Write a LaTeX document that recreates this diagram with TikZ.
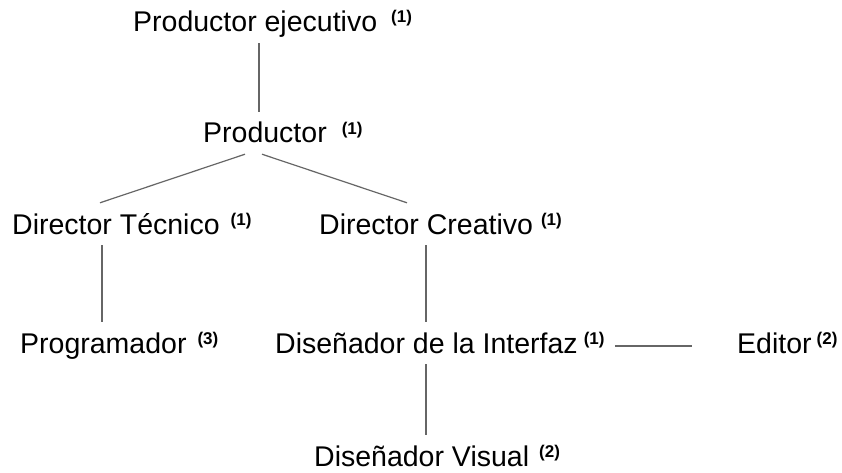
\documentclass[tikz,border=0pt]{standalone}
\usepackage{fontspec}
\setmainfont{Liberation Sans}
\usetikzlibrary{positioning}

\newcommand{\nota}[1]{\raisebox{9pt}{\fontsize{17}{17}\selectfont\bfseries(#1)}}

\begin{document}
\begin{tikzpicture}[x=1pt,y=-1pt,
    puesto/.style={anchor=base west,inner xsep=0pt,inner ysep=9pt,text height=22pt,text depth=2pt,font=\fontsize{28.5}{30}\selectfont},
    enlace/.style={draw=black!60,line width=1.2pt}]
    \useasboundingbox (0,0) rectangle (842,473);

    \node[puesto] (pe) at (133,32) {Productor ejecutivo\hspace{14pt}\nota{1}};
    \node[puesto] (prod) at (203,143) {Productor\hspace{15pt}\nota{1}};
    \node[puesto] (dt) at (12,234) {Director Técnico\hspace{11pt}\nota{1}};
    \node[puesto] (dc) at (319,234) {Director Creativo\hspace{8pt}\nota{1}};
    \node[puesto] (prog) at (20,353) {Programador\hspace{11pt}\nota{3}};
    \node[puesto] (di) at (275,353) {Diseñador de la Interfaz\hspace{6pt}\nota{1}};
    \node[puesto] (ed) at (737,353) {Editor\hspace{5pt}\nota{2}};
    \node[puesto] (dv) at (314,466) {Diseñador Visual\hspace{10pt}\nota{2}};

    \draw[enlace] ([xshift=126pt]pe.south west) -- ([xshift=56pt]prod.north west);
    \draw[enlace] ([xshift=42pt]prod.south west) -- ([xshift=88pt]dt.north west);
    \draw[enlace] ([xshift=59pt]prod.south west) -- ([xshift=88pt]dc.north west);
    \draw[enlace] ([xshift=90pt]dt.south west) -- ([xshift=82pt]prog.north west);
    \draw[enlace] ([xshift=107pt]dc.south west) -- ([xshift=151pt]di.north west);
    \draw[enlace] ([xshift=151pt]di.south west) -- ([xshift=112pt]dv.north west);
    \draw[enlace] ([xshift=10pt,yshift=-3pt]di.east) -- ([xshift=-45pt,yshift=-3pt]ed.west);
\end{tikzpicture}
\end{document}
